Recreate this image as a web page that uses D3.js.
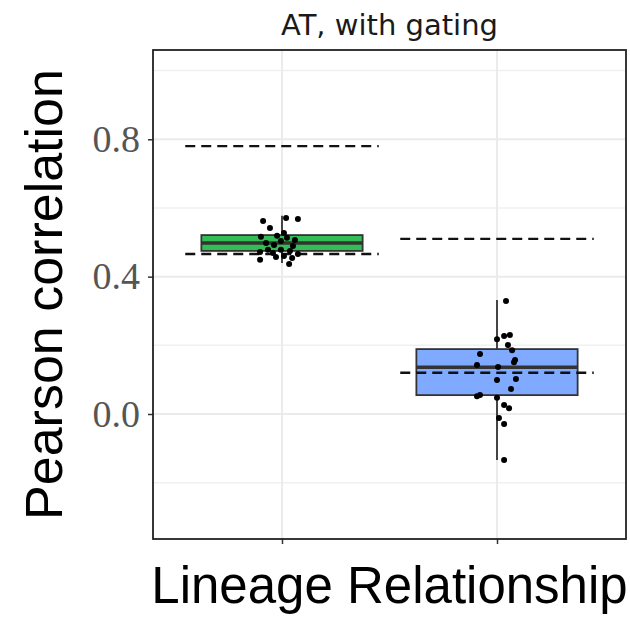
<!DOCTYPE html>
<html>
<head>
<meta charset="utf-8">
<script src="https://cdn.jsdelivr.net/npm/d3@7"></script>
<style>
  body { margin: 0; background: #fff; }
  svg { display: block; }
</style>
</head>
<body>
<div id="chart"></div>
<script>
// data
const title = 'AT, with gating';
const categories = ['group1', 'group2'];
const boxColors = ['#33BE55', '#7FAAFF'];
const yTicks = [0.0, 0.4, 0.8];
const yMinor = [-0.2, 0.2, 0.6, 1.0];

// box stats: [lowerWhisker, q1, median, q3, upperWhisker]
const boxStats = [
    [0.440, 0.475, 0.498, 0.521, 0.577],
    [-0.134, 0.055, 0.136, 0.189, 0.332]
];

// dashed reference lines, per group
const refLines = [
    [0.780, 0.466],
    [0.510, 0.120]
];

// jittered points: x offset (in category units) and value
const group1Jitter = [-0.088, -0.056, 0.019, 0.074, -0.098, -0.074, -0.037, -0.005, 0.023, 0.051, -0.005, -0.102, 0.033, 0.009, 0.074, -0.028, 0.037, -0.065, 0.060, -0.102, 0.009, -0.023, 0.047, -0.042];
const group1Values = [0.562, 0.542, 0.571, 0.568, 0.516, 0.498, 0.492, 0.504, 0.513, 0.489, 0.478, 0.449, 0.437, 0.460, 0.466, 0.457, 0.475, 0.478, 0.507, 0.472, 0.527, 0.519, 0.454, 0.469];
const group2Jitter = [0.042, 0.000, 0.033, 0.060, 0.051, 0.070, -0.079, -0.093, 0.079, 0.005, 0.000, 0.088, 0.065, -0.079, 0.000, 0.033, 0.056, 0.009, 0.033, 0.033, -0.093, 0.084];
const group2Values = [0.329, 0.218, 0.227, 0.230, 0.201, 0.186, 0.175, 0.143, 0.151, 0.137, 0.099, 0.102, 0.073, 0.055, 0.047, 0.026, 0.017, -0.012, -0.029, -0.134, 0.052, 0.157];

const W = 630, H = 617;
const panel = { left: 153, right: 626, top: 50, bottom: 539 };

const svg = d3.select('#chart')
    .append('svg')
    .attr('width', W)
    .attr('height', H);

const xScale = d3.scaleLinear()
    .domain([0.4, 2.6])
    .range([panel.left, panel.right]);

const yScale = d3.scaleLinear()
    .domain([-0.364, 1.06])
    .range([panel.bottom, panel.top]);

//#region grid
const gGrid = svg.append('g').classed('grid', true);

gGrid.selectAll('.minor')
    .data(yMinor)
    .enter()
    .append('line')
    .attr('x1', panel.left).attr('x2', panel.right)
    .attr('y1', d => yScale(d)).attr('y2', d => yScale(d))
    .attr('stroke', '#F0F0F0')
    .attr('stroke-width', 1.5);

gGrid.selectAll('.major')
    .data(yTicks)
    .enter()
    .append('line')
    .attr('x1', panel.left).attr('x2', panel.right)
    .attr('y1', d => yScale(d)).attr('y2', d => yScale(d))
    .attr('stroke', '#EBEBEB')
    .attr('stroke-width', 2);

gGrid.selectAll('.vmajor')
    .data(categories)
    .enter()
    .append('line')
    .attr('x1', (d, i) => xScale(i + 1)).attr('x2', (d, i) => xScale(i + 1))
    .attr('y1', panel.top).attr('y2', panel.bottom)
    .attr('stroke', '#EBEBEB')
    .attr('stroke-width', 2);
//#endregion

//#region boxes
const gBox = svg.append('g').classed('boxes', true);
const halfBox = 0.375;

boxStats.forEach((s, i) => {
    const cx = xScale(i + 1);
    // whiskers
    gBox.append('line')
        .attr('x1', cx).attr('x2', cx)
        .attr('y1', yScale(s[3])).attr('y2', yScale(s[4]))
        .attr('stroke', '#333').attr('stroke-width', 1.8);
    gBox.append('line')
        .attr('x1', cx).attr('x2', cx)
        .attr('y1', yScale(s[1])).attr('y2', yScale(s[0]))
        .attr('stroke', '#333').attr('stroke-width', 1.8);
    // box
    gBox.append('rect')
        .attr('x', xScale(i + 1 - halfBox))
        .attr('width', xScale(i + 1 + halfBox) - xScale(i + 1 - halfBox))
        .attr('y', yScale(s[3]))
        .attr('height', yScale(s[1]) - yScale(s[3]))
        .attr('fill', boxColors[i])
        .attr('stroke', '#333')
        .attr('stroke-width', 1.8);
    // median
    gBox.append('line')
        .attr('x1', xScale(i + 1 - halfBox)).attr('x2', xScale(i + 1 + halfBox))
        .attr('y1', yScale(s[2])).attr('y2', yScale(s[2]))
        .attr('stroke', '#333').attr('stroke-width', 3.6);
});
//#endregion

//#region reference lines
const gRef = svg.append('g').classed('ref-lines', true);
refLines.forEach((vals, i) => {
    gRef.selectAll(null)
        .data(vals)
        .enter()
        .append('line')
        .attr('x1', xScale(i + 1 - 0.45)).attr('x2', xScale(i + 1 + 0.45))
        .attr('y1', d => yScale(d)).attr('y2', d => yScale(d))
        .attr('stroke', '#111')
        .attr('stroke-width', 2.4)
        .style('stroke-dasharray', '10, 6');
});
//#endregion

//#region points
const gPoints = svg.append('g').classed('points', true);
const pointSets = [
    group1Jitter.map((j, k) => ({ x: 1 + j, y: group1Values[k] })),
    group2Jitter.map((j, k) => ({ x: 2 + j, y: group2Values[k] }))
];
pointSets.forEach(set => {
    gPoints.selectAll(null)
        .data(set)
        .enter()
        .append('circle')
        .attr('cx', d => xScale(d.x))
        .attr('cy', d => yScale(d.y))
        .attr('r', 3)
        .attr('fill', '#000');
});
//#endregion

//#region axes
const yAx = svg.append('g')
    .attr('transform', `translate(${panel.left}, 0)`)
    .call(d3.axisLeft(yScale).tickValues(yTicks).tickFormat(d3.format('.1f')).tickSize(5).tickPadding(8));
yAx.select('.domain').remove();
yAx.selectAll('line').attr('stroke', '#333').attr('stroke-width', 1.5);
yAx.selectAll('text')
    .attr('fill', '#555')
    .style('font-family', '"Liberation Serif", "DejaVu Serif", serif')
    .style('font-size', '38px');

const xAx = svg.append('g')
    .attr('transform', `translate(0, ${panel.bottom})`)
    .call(d3.axisBottom(xScale).tickValues([1, 2]).tickFormat('').tickSize(5));
xAx.select('.domain').remove();
xAx.selectAll('line').attr('stroke', '#333').attr('stroke-width', 1.5);

// panel border
svg.append('rect')
    .attr('x', panel.left).attr('y', panel.top)
    .attr('width', panel.right - panel.left)
    .attr('height', panel.bottom - panel.top)
    .attr('fill', 'none')
    .attr('stroke', '#222')
    .attr('stroke-width', 1.8);
//#endregion

//#region labels
svg.append('text')
    .attr('x', (panel.left + panel.right) / 2)
    .attr('y', 35)
    .attr('text-anchor', 'middle')
    .style('font-family', '"DejaVu Sans", sans-serif')
    .style('font-size', '29px')
    .attr('fill', '#1A1A1A')
    .text(title);

svg.append('text')
    .attr('x', (panel.left + panel.right) / 2)
    .attr('y', 603)
    .attr('text-anchor', 'middle')
    .style('font-family', '"Liberation Sans", Arial, sans-serif')
    .style('font-size', '51px')
    .attr('fill', '#000')
    .text('Lineage Relationship');

svg.append('text')
    .attr('transform', `translate(62, ${(panel.top + panel.bottom) / 2}) rotate(-90)`)
    .attr('text-anchor', 'middle')
    .style('font-family', '"Liberation Sans", Arial, sans-serif')
    .style('font-size', '52px')
    .attr('fill', '#000')
    .text('Pearson correlation');
//#endregion
</script>
</body>
</html>
